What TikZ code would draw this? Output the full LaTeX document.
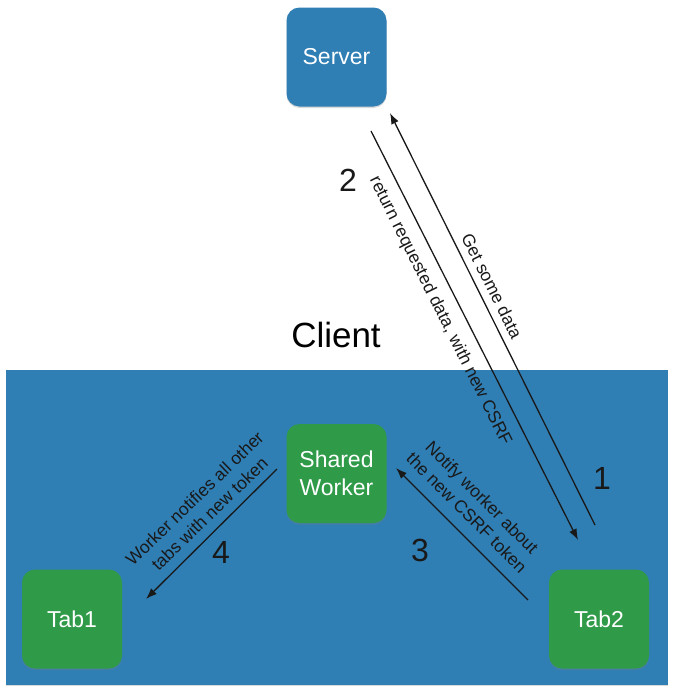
\documentclass[tikz,border=0pt]{standalone}
\usepackage{fontspec}
\setmainfont{Liberation Sans}
\usetikzlibrary{arrows.meta,shadows}
\definecolor{bgblue}{RGB}{47,126,180}
\definecolor{boxgreen}{RGB}{47,154,72}
\begin{document}
\begin{tikzpicture}[x=1pt,y=-1pt,
  softshadow/.style={drop shadow={opacity=0.3, shadow xshift=0pt, shadow yshift=-1.5pt}},
  box/.style={rounded corners=13pt, minimum width=100pt, minimum height=99pt, inner sep=0pt,
    text=white, font=\fontsize{23}{28}\selectfont, align=center, softshadow},
  greenbox/.style={box, fill=boxgreen},
  bluebox/.style={box, fill=bgblue},
  arr/.style={-{Latex[length=11pt,width=8pt]}, line width=1.3pt, draw=black!90},
  lbl/.style={font=\fontsize{17.5}{21.5}\selectfont, align=center, text=black!90, inner sep=0pt},
  num/.style={font=\fontsize{32}{36}\selectfont, text=black!90, inner sep=0pt}]
\useasboundingbox (0,0) rectangle (673,691);
% client area
\node[fill=bgblue, minimum width=662pt, minimum height=315pt, inner sep=0pt, softshadow] (clientarea) at (336.5,527) {};
\node[font=\fontsize{35}{40}\selectfont, inner sep=0pt] (clienttitle) at (336,335) {Client};
% boxes
\node[bluebox] (server) at (336.5,57) {Server};
\node[greenbox] (worker) at (336.5,473.5) {Shared\\Worker};
\node[greenbox] (tab1) at (72,619) {Tab1};
\node[greenbox] (tab2) at (599,619) {Tab2};
% connector end points
\coordinate (a1s) at (595,525); \coordinate (a1e) at (390,113);
\coordinate (a2s) at (371,131); \coordinate (a2e) at (578,540);
\coordinate (a3s) at (528,600); \coordinate (a3e) at (396,468);
\coordinate (a4s) at (277,469); \coordinate (a4e) at (146,599);
% arrows
\draw[arr] (a1s) -- (a1e);
\draw[arr] (a2s) -- (a2e);
\draw[arr] (a3s) -- (a3e);
\draw[arr] (a4s) -- (a4e);
% labels
\node[lbl, rotate=-63.5] (l1) at (492,286) {Get some data};
\node[lbl, rotate=-63.5] (l2) at (440,311) {return requested data, with new CSRF};
\node[lbl, rotate=-45] (l3) at (474.5,505) {Notify worker about\\the new CSRF token};
\node[lbl, rotate=44] (l4) at (202,506) {Worker notifies all other\\tabs with new token};
% numbers
\node[num] (n1) at (602,478) {1};
\node[num] (n2) at (348,180) {2};
\node[num] (n3) at (420,550) {3};
\node[num] (n4) at (221,552) {4};
\end{tikzpicture}
\end{document}
